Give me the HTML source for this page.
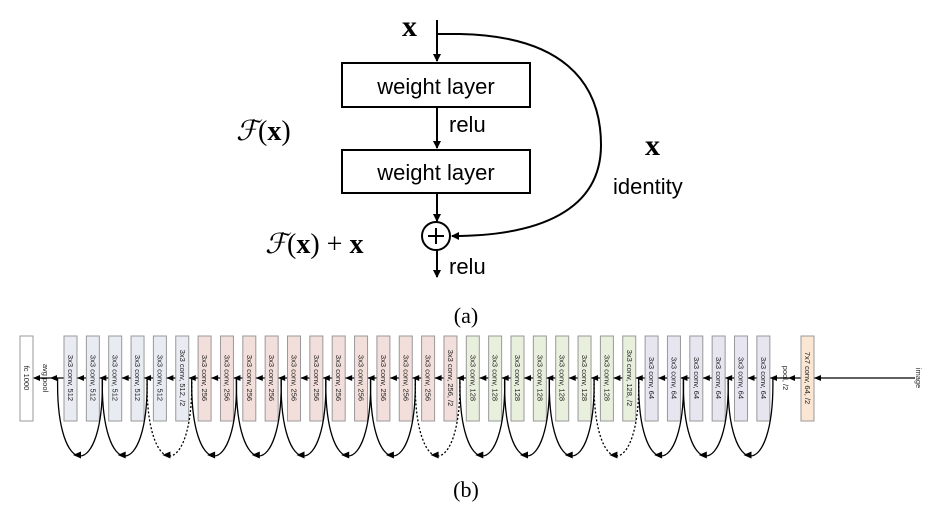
<!DOCTYPE html>
<html><head><meta charset="utf-8"><style>
body{margin:0;background:#fff;width:932px;height:507px;overflow:hidden}
svg{display:block}
</style></head><body>
<svg width="932" height="507" viewBox="0 0 932 507" xmlns="http://www.w3.org/2000/svg">
<defs>
<marker id="ah" markerWidth="8" markerHeight="8" refX="7" refY="4" orient="auto" markerUnits="userSpaceOnUse"><path d="M0,0 L8,4 L0,8 z" fill="#000"/></marker>
</defs>
<g font-family="Liberation Sans, sans-serif">
<line x1="437" y1="20" x2="437" y2="61" stroke="#000" stroke-width="2" marker-end="url(#ah)"/>
<rect x="342" y="63" width="188" height="44" fill="#fff" stroke="#000" stroke-width="2"/>
<text x="436" y="94" font-size="22" text-anchor="middle">weight layer</text>
<line x1="437" y1="107" x2="437" y2="148" stroke="#000" stroke-width="2" marker-end="url(#ah)"/>
<text x="449" y="132" font-size="22">relu</text>
<rect x="342" y="150" width="188" height="43" fill="#fff" stroke="#000" stroke-width="2"/>
<text x="436" y="180" font-size="22" text-anchor="middle">weight layer</text>
<line x1="437" y1="193" x2="437" y2="221" stroke="#000" stroke-width="2" marker-end="url(#ah)"/>
<circle cx="436" cy="236" r="14" fill="#fff" stroke="#000" stroke-width="2"/>
<line x1="428" y1="236" x2="444" y2="236" stroke="#000" stroke-width="2"/>
<line x1="436" y1="228" x2="436" y2="244" stroke="#000" stroke-width="2"/>
<line x1="437" y1="250" x2="437" y2="277" stroke="#000" stroke-width="2" marker-end="url(#ah)"/>
<text x="449" y="274" font-size="22">relu</text>
<path d="M437,34 L460,34 C560,36 601,80 601,145 C601,210 540,236 452,236" fill="none" stroke="#000" stroke-width="2" marker-end="url(#ah)"/>
<text x="402" y="36" font-size="30" font-weight="bold" font-family="Liberation Serif, serif">x</text>
<text x="236" y="140" font-size="28" font-family="Liberation Serif, serif"><tspan font-style="italic">ℱ</tspan>(<tspan font-weight="bold">x</tspan>)</text>
<text x="645" y="155" font-size="30" font-weight="bold" font-family="Liberation Serif, serif">x</text>
<text x="613" y="194" font-size="22">identity</text>
<text x="265" y="253" font-size="28" font-family="Liberation Serif, serif"><tspan font-style="italic">ℱ</tspan>(<tspan font-weight="bold">x</tspan>) + <tspan font-weight="bold">x</tspan></text>
<text x="466" y="323" font-size="22" text-anchor="middle" font-family="Liberation Serif, serif">(a)</text>
<text x="466" y="497" font-size="22" text-anchor="middle" font-family="Liberation Serif, serif">(b)</text>
<line x1="915" y1="378" x2="34" y2="378" stroke="#000" stroke-width="1.3"/>
</g>
<g font-family="Liberation Sans, sans-serif" font-size="7.5" fill="#222">
<rect x="20" y="336" width="13" height="85" fill="#fff" stroke="#999" stroke-width="1"/>
<text transform="translate(24,378) rotate(90)" text-anchor="middle">fc 1000</text>
<text transform="translate(43,378) rotate(90)" text-anchor="middle">avg pool</text>
<text transform="translate(783,378) rotate(90)" text-anchor="middle">pool, /2</text>
<text transform="translate(916,378) rotate(90)" text-anchor="middle">image</text>
<rect x="801" y="336" width="13" height="85" fill="#fbe6d4" stroke="#999" stroke-width="1"/>
<text transform="translate(805,378) rotate(90)" text-anchor="middle">7x7 conv, 64, /2</text>
<polygon points="814,378 821,375 821,381" fill="#000"/>
<polygon points="788,378 795,375 795,381" fill="#000"/>
<polygon points="770,378 777,375 777,381" fill="#000"/>
<polygon points="33,378 40,375 40,381" fill="#000"/>
<polygon points="50,378 57,375 57,381" fill="#000"/>
</g>
<script>
(function(){
var s=document.querySelector('svg');var ns='http://www.w3.org/2000/svg';
function el(t,a,p){var e=document.createElementNS(ns,t);for(var k in a)e.setAttribute(k,a[k]);(p||s).appendChild(e);return e;}
var g=el('g',{'font-family':'Liberation Sans, sans-serif','font-size':'7.5',fill:'#222'});
for(var i=0;i<32;i++){
 var x=64+i*22.35,lab,c;
 if(i<6){c='#e8ebf2';lab=i==5?'3x3 conv, 512, /2':'3x3 conv, 512';}
 else if(i<18){c='#f2dedb';lab=i==17?'3x3 conv, 256, /2':'3x3 conv, 256';}
 else if(i<26){c='#e9efdd';lab=i==25?'3x3 conv, 128, /2':'3x3 conv, 128';}
 else{c='#e7e5ef';lab='3x3 conv, 64';}
 el('rect',{x:x,y:336,width:13,height:85,fill:c,stroke:'#999','stroke-width':1},g);
 var t=el('text',{transform:'translate('+(x+4)+',378) rotate(90)','text-anchor':'middle'},g);t.textContent=lab;
 if(i<31)el('polygon',{points:(x+13)+',378 '+(x+20)+',375 '+(x+20)+',381',fill:'#000'},g);
}
for(var j=31;j>=1;j-=2){
 var x1=64+16+22.35*j,x2=64+16+22.35*(j-2);
 var dashed=(j==25||j==17||j==5);
 var a={d:'M'+x1+',378 C'+(x1+2)+',482 '+(x2-2)+',482 '+x2+',378',fill:'none',stroke:'#000','stroke-width':1.3};
 if(dashed)a['stroke-dasharray']='2,2';
 el('path',a);
 var mx=(x1+x2)/2-7;
 el('polygon',{points:mx+',455 '+(mx+8)+',451.5 '+(mx+8)+',458.5',fill:'#000'});
}
})();
</script>
</svg>
</body></html>
